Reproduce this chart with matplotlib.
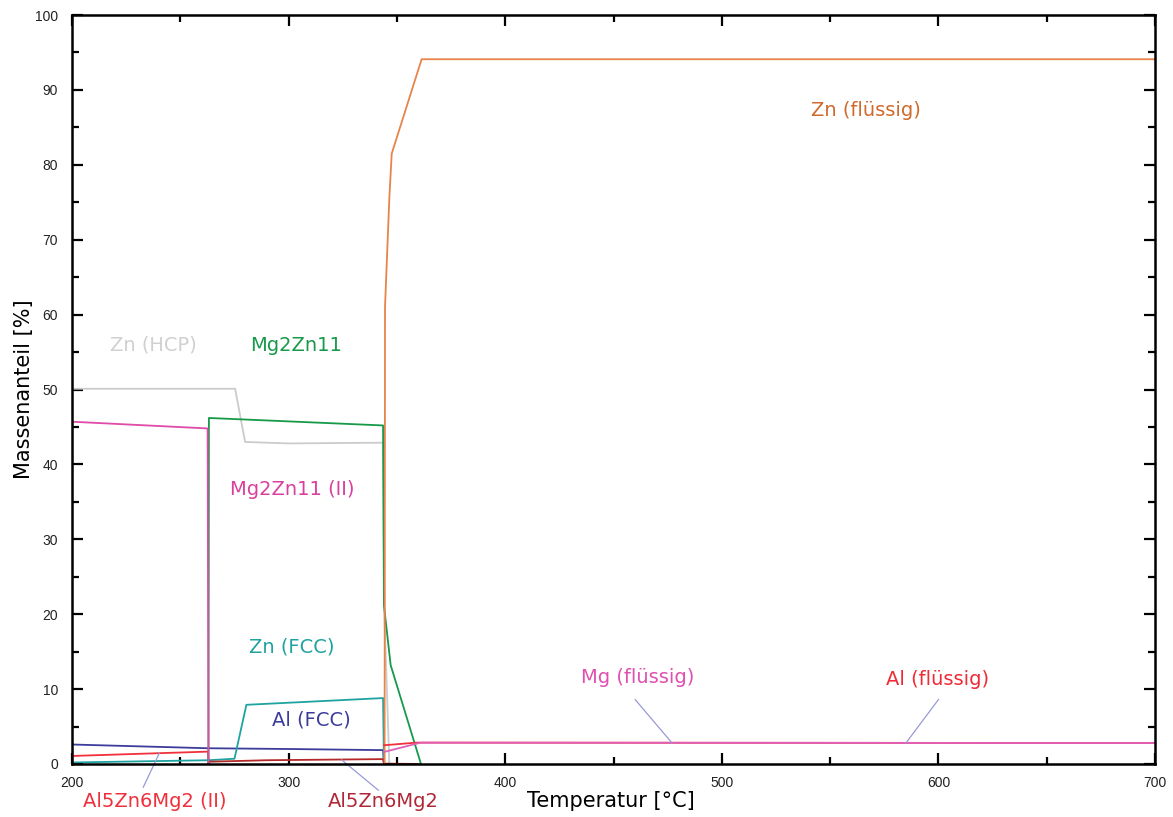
import matplotlib
matplotlib.use("Agg")
from matplotlib import pyplot as plt
from matplotlib.ticker import MultipleLocator

# phase fractions (mass %) vs temperature (°C)
zn_hcp_T = [200, 275.3, 279.9, 300, 343.6, 344.2, 346.5]
zn_hcp_v = [50.1, 50.1, 43.0, 42.8, 42.9, 20.0, 0.0]

mg2zn11_ii_T = [200, 262.6, 263.0]
mg2zn11_ii_v = [45.7, 44.8, 0.0]

mg2zn11_T = [263.0, 263.2, 343.6, 344.0, 347.1, 361.1]
mg2zn11_v = [0.0, 46.2, 45.2, 21.2, 13.2, 0.0]

zn_fcc_T = [200, 263, 275, 280.5, 343.6, 344.0]
zn_fcc_v = [0.2, 0.5, 0.7, 7.9, 8.8, 0.0]

al_fcc_T = [200, 263, 300, 343.6, 344.0]
al_fcc_v = [2.6, 2.1, 2.0, 1.85, 0.0]

al5_ii_T = [200, 262.8, 263.0]
al5_ii_v = [1.07, 1.65, 0.0]

al5_T = [263.0, 263.2, 290, 343.6, 344.0, 360]
al5_v = [0.0, 0.3, 0.5, 0.65, 0.05, 0.0]

zn_liq_T = [344.3, 344.5, 346.5, 347.6, 361.4, 700]
zn_liq_v = [0.0, 61.0, 75.6, 81.5, 94.1, 94.1]

al_liq_T = [344.0, 359, 700]
al_liq_v = [2.5, 2.85, 2.8]

mg_liq_T = [344.0, 361, 700]
mg_liq_v = [1.6, 2.85, 2.8]

LABEL_FONT = "DejaVu Sans"
TICK_FONT = "Liberation Sans"
LEADER = "#9a9ad8"

fig = plt.figure(figsize=(11.73, 8.17), dpi=100)
ax = fig.add_axes([0.0614, 0.0649, 0.9233, 0.9167])

lw = 1.3
ax.plot(zn_hcp_T, zn_hcp_v, color="#cbcbcb", lw=lw)
ax.plot(al5_ii_T, al5_ii_v, color="#f0303c", lw=lw)
ax.plot(al_fcc_T, al_fcc_v, color="#3c3c9c", lw=lw)
ax.plot(zn_fcc_T, zn_fcc_v, color="#1fa3a0", lw=lw)
ax.plot(al5_T, al5_v, color="#b42828", lw=lw)
ax.plot(mg2zn11_T, mg2zn11_v, color="#17994a", lw=lw)
ax.plot(mg2zn11_ii_T, mg2zn11_ii_v, color="#e04aa8", lw=lw)
ax.plot(zn_liq_T, zn_liq_v, color="#e8844a", lw=lw)
ax.plot(al_liq_T, al_liq_v, color="#f0303c", lw=lw)
ax.plot(mg_liq_T, mg_liq_v, color="#e060b8", lw=lw)

ax.set_xlim(200, 700)
ax.set_ylim(0, 100)
ax.xaxis.set_major_locator(MultipleLocator(100))
ax.xaxis.set_minor_locator(MultipleLocator(50))
ax.yaxis.set_major_locator(MultipleLocator(10))
ax.yaxis.set_minor_locator(MultipleLocator(5))
ax.tick_params(which="both", direction="in", top=True, right=True, width=1.6,
               labelsize=10, colors="black")
ax.tick_params(axis="y", pad=10)
ax.tick_params(axis="x", pad=9)
ax.tick_params(which="major", length=8)
ax.tick_params(which="minor", length=5)
for lab in ax.get_xticklabels() + ax.get_yticklabels():
    lab.set_family(TICK_FONT)
    lab.set_color("#222222")
for s in ax.spines.values():
    s.set_linewidth(1.8)

# phase labels
labels = [
    ("Zn (flüssig)", 566.6, 87.3, "#d06a2c"),
    ("Zn (HCP)", 237.4, 55.9, "#d0d0d0"),
    ("Mg2Zn11", 303.4, 55.9, "#17994a"),
    ("Mg2Zn11 (II)", 301.6, 36.6, "#d8409e"),
    ("Zn (FCC)", 301.6, 15.6, "#1fa3a0"),
    ("Al (FCC)", 310.3, 5.9, "#3c3c9c"),
    ("Mg (flüssig)", 461.3, 11.5, "#e050b0"),
    ("Al (flüssig)", 599.8, 11.3, "#f02a36"),
    ("Al5Zn6Mg2 (II)", 238.3, -5.0, "#f0303c"),
    ("Al5Zn6Mg2", 343.6, -5.0, "#b02838"),
]
for txt, x, y, c in labels:
    ax.text(x, y, txt, color=c, fontsize=14, family=LABEL_FONT,
            ha="center", va="center", clip_on=False)

# leader lines from labels to curves
leaders = [
    ((460, 8.6), (477, 2.8)),
    ((600, 8.6), (585, 2.8)),
    ((232.9, -3.1), (240.3, 1.45)),
    ((341.4, -3.5), (324.5, 0.55)),
]
for (x0, y0), (x1, y1) in leaders:
    ax.plot([x0, x1], [y0, y1], color=LEADER, lw=0.9, clip_on=False)

ax.text(449, -5.0, "Temperatur [°C]", fontsize=15, family=LABEL_FONT,
        ha="center", va="center", clip_on=False)
ax.set_ylabel("Massenanteil [%]", fontsize=15, family=LABEL_FONT, labelpad=1)

fig.savefig("out.png", dpi=100)
